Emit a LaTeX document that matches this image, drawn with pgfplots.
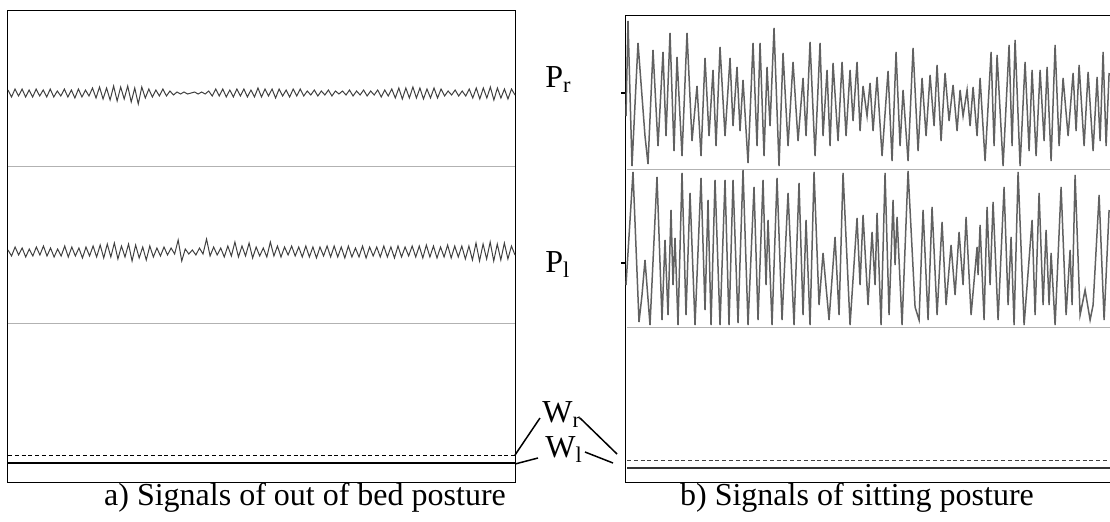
\documentclass[border=0pt]{standalone}
\usepackage{pgfplots}
\pgfplotsset{compat=1.18}
\usepackage{pgfplotstable}
\usepackage{fontspec}
\setmainfont{Liberation Serif}

% 1 px of the reference = 0.5pt
\pgfplotsset{
  lbox/.style={scale only axis, at={(4pt,-5pt)}, anchor=north west,
    width=253.5pt, height=236pt},
  rbox/.style={scale only axis, at={(312.5pt,-7.5pt)}, anchor=north west,
    width=242.5pt, height=233.5pt},
  sig/.style={hide axis, clip=false},
  lsig/.style={black!75, line width=0.5pt, mark=none},
  rsig/.style={black!62, line width=0.75pt, mark=none},
}

% left panel, deviations in px around each trace's centre
\pgfplotstableread[header=false,row sep=\\]{
3\\-4\\4\\-3\\4\\-4\\3\\-4\\4\\-3\\3\\-4\\4\\-4\\2\\-3\\4\\-4\\3\\-5\\4\\-4\\3\\-3\\5\\
-5\\6\\-6\\5\\-7\\7\\-8\\6\\-6\\7\\-9\\5\\-11\\6\\-5\\4\\
-4\\3\\-3\\4\\-3\\2\\-2\\
1\\-1\\1\\-1\\0\\1\\-1\\1\\-1\\
2\\-3\\4\\-3\\4\\-4\\3\\-4\\4\\-3\\4\\-4\\3\\-4\\5\\-4\\4\\-3\\4\\-5\\4\\-3\\3\\-4\\4\\-3\\4\\
-3\\2\\-2\\3\\-3\\2\\-2\\3\\-3\\2\\-1\\2\\-2\\3\\-3\\2\\-2\\3\\-3\\2\\-2\\3\\-4\\3\\-3\\4\\
-5\\5\\-6\\5\\-5\\6\\-5\\5\\-6\\4\\-5\\5\\-5\\4\\
-3\\2\\-2\\3\\-3\\2\\-3\\
4\\-5\\5\\-6\\5\\-5\\6\\-7\\5\\-5\\4\\-6\\4\\-2\\
}\lpr

\pgfplotstableread[header=false,row sep=\\]{
2\\-4\\5\\-3\\4\\-5\\3\\-4\\5\\-3\\6\\-4\\4\\-5\\3\\-4\\6\\-5\\5\\-4\\4\\-6\\5\\-4\\6\\-5\\
7\\-6\\8\\-5\\9\\-7\\6\\-5\\8\\-9\\7\\-6\\5\\-8\\6\\-5\\4\\
-4\\5\\-3\\4\\-2\\12\\-9\\3\\-2\\2\\-3\\4\\-2\\13\\-4\\5\\
-3\\4\\-5\\6\\-4\\10\\-5\\6\\-4\\9\\-6\\5\\-4\\4\\-5\\10\\-4\\6\\-5\\5\\-3\\6\\-4\\5\\
-5\\6\\-5\\5\\-6\\5\\-4\\6\\-5\\6\\-5\\5\\-6\\6\\-5\\4\\-5\\6\\-6\\5\\-4\\5\\-5\\6\\
-5\\5\\-6\\6\\-5\\5\\-4\\6\\-5\\6\\-6\\7\\-5\\6\\-6\\5\\-5\\7\\-6\\6\\-5\\6\\-7\\6\\
-8\\9\\-9\\8\\-7\\10\\-9\\8\\-8\\9\\-7\\6\\-3\\
}\lpl

\begin{document}
\begin{tikzpicture}
\path[use as bounding box] (0,0) rectangle (555pt,-260.5pt);

% ---------- a) out of bed ----------
\begin{axis}[lbox, xmin=0, xmax=507, ymin=0, ymax=472,
  xtick=\empty, ytick=\empty, axis line style={line width=0.5pt}]
  \addplot[gray!60, line width=0.5pt] coordinates {(0,316) (507,316)};
  \addplot[gray!60, line width=0.5pt] coordinates {(0,159) (507,159)};
  \addplot[black, line width=0.5pt, dash pattern=on 2pt off 1.4pt] coordinates {(0,27) (507,27)};
  \addplot[black, line width=0.6pt] coordinates {(0,19) (507,19)};
\end{axis}
\begin{axis}[lbox, sig, xmin=0, xmax=144, ymin=-389, ymax=83]
  \addplot[lsig] table[x expr=\coordindex, y index=0] {\lpr};
\end{axis}
\begin{axis}[lbox, sig, xmin=0, xmax=143, ymin=-230, ymax=242]
  \addplot[lsig] table[x expr=\coordindex, y index=0] {\lpl};
\end{axis}

% ---------- b) sitting ----------
\begin{axis}[rbox, xmin=0, xmax=485, ymin=0, ymax=467,
  xtick=\empty, ytick={219,389}, yticklabels={,},
  major tick length=2pt, tick align=outside, ytick pos=left,
  axis line style={line width=0.5pt}, tick style={black, line width=0.6pt}]
  \addplot[gray!60, line width=0.5pt] coordinates {(2,313) (485,313)};
  \addplot[gray!60, line width=0.5pt] coordinates {(2,155) (485,155)};
  \addplot[black!75, line width=0.5pt, dash pattern=on 2pt off 1.4pt] coordinates {(2,22) (485,22)};
  \addplot[black!80, line width=0.6pt] coordinates {(2,14) (485,14)};
\end{axis}
\begin{axis}[rbox, sig, xmin=625, xmax=1110, ymin=-316, ymax=151]
  \addplot[rsig] coordinates {
    (626,50) (628,145) (632,0) (638,123) (645,30) (648,2) (653,116) (658,20)
    (663,114) (666,30) (670,133) (674,15) (677,109) (682,10) (687,133) (692,25)
    (697,80) (701,10) (705,108) (709,30) (713,96) (716,20) (720,119) (725,30)
    (730,108) (733,40) (737,99) (740,35) (743,86) (748,3) (753,123) (757,20)
    (760,123) (764,10) (767,99) (770,40) (774,138) (779,0) (783,113) (788,20)
    (793,104) (798,25) (803,88) (806,30) (810,124) (815,10) (820,123) (823,30)
    (827,96) (830,20) (833,103) (838,25) (842,104) (846,30) (850,96) (853,45)
    (857,104) (860,35) (863,80) (867,50) (870,83) (873,35) (877,89) (882,10)
    (888,95) (892,5) (896,114) (900,20) (903,76) (908,5) (913,118) (918,15)
    (922,88) (926,30) (930,91) (934,40) (937,101) (941,25) (945,93) (949,45)
    (953,81) (957,35) (960,76) (963,50) (967,76) (970,40) (973,79) (977,30)
    (980,88) (985,5) (991,114) (994,20) (997,111) (1003,0) (1009,121) (1012,20)
    (1015,126) (1020,0) (1025,104) (1029,15) (1032,96) (1036,10) (1040,96) (1044,25)
    (1047,99) (1051,5) (1055,121) (1059,20) (1063,88) (1068,30) (1073,93) (1076,35)
    (1079,101) (1084,20) (1088,94) (1093,15) (1097,89) (1100,25) (1103,114) (1106,20)
    (1109,93)};
\end{axis}
\begin{axis}[rbox, sig, xmin=625, xmax=1110, ymin=-157, ymax=310]
  \addplot[rsig] coordinates {
    (626,40) (633,153) (639,3) (642,30) (645,65) (650,0) (657,148) (662,5)
    (665,85) (668,10) (671,115) (673,40) (675,87) (678,0) (682,152) (686,10)
    (690,132) (695,0) (701,147) (705,15) (708,125) (711,0) (715,145) (720,0)
    (725,145) (729,0) (733,145) (738,2) (743,155) (748,0) (754,138) (758,5)
    (763,145) (766,40) (768,105) (772,0) (777,147) (782,5) (788,132) (794,0)
    (799,142) (803,10) (806,105) (810,0) (814,153) (819,20) (823,72) (829,5)
    (835,88) (839,10) (843,152) (850,0) (857,107) (860,40) (863,110) (868,20)
    (872,93) (875,40) (877,112) (881,0) (885,152) (889,10) (893,125) (895,60)
    (897,108) (902,0) (908,154) (915,18) (919,5) (923,115) (928,5) (932,118)
    (937,10) (942,103) (946,20) (951,80) (955,30) (959,93) (963,40) (966,108)
    (971,10) (977,78) (978,50) (980,100) (984,5) (987,118) (990,40) (993,123)
    (998,5) (1004,138) (1008,20) (1011,88) (1014,0) (1018,153) (1024,0) (1032,105)
    (1035,10) (1039,132) (1043,20) (1046,95) (1049,20) (1051,72) (1055,0) (1061,138)
    (1066,10) (1070,75) (1072,20) (1075,150) (1080,10) (1085,35) (1090,5) (1093,20)
    (1099,130) (1104,5) (1109,115)};
\end{axis}

% ---------- channel labels ----------
\node[anchor=base west, inner sep=0pt, font=\fontsize{16}{19}\selectfont] at (272.5pt,-43.5pt) {P\textsubscript{r}};
\node[anchor=base west, inner sep=0pt, font=\fontsize{16}{19}\selectfont] at (272.5pt,-136pt) {P\textsubscript{l}};
\node[anchor=base west, inner sep=0pt, font=\fontsize{16}{19}\selectfont] at (271pt,-211pt) {W\textsubscript{r}};
\node[anchor=base west, inner sep=0pt, font=\fontsize{16}{19}\selectfont] at (272.5pt,-228.5pt) {W\textsubscript{l}};
\draw[line width=0.75pt] (257.5pt,-227.5pt) -- (270pt,-209pt);
\draw[line width=0.75pt] (257.5pt,-232pt) -- (269pt,-229pt);
\draw[line width=0.75pt] (290pt,-209pt) -- (308.5pt,-227pt);
\draw[line width=0.75pt] (292.5pt,-226pt) -- (306.5pt,-231.5pt);

% ---------- captions ----------
\node[anchor=base, inner sep=0pt, font=\fontsize{16}{19}\selectfont] at (152.5pt,-252.5pt) {a) Signals of out of bed posture};
\node[anchor=base, inner sep=0pt, font=\fontsize{16}{19}\selectfont] at (428.5pt,-252.5pt) {b) Signals of sitting posture};
\end{tikzpicture}
\end{document}
